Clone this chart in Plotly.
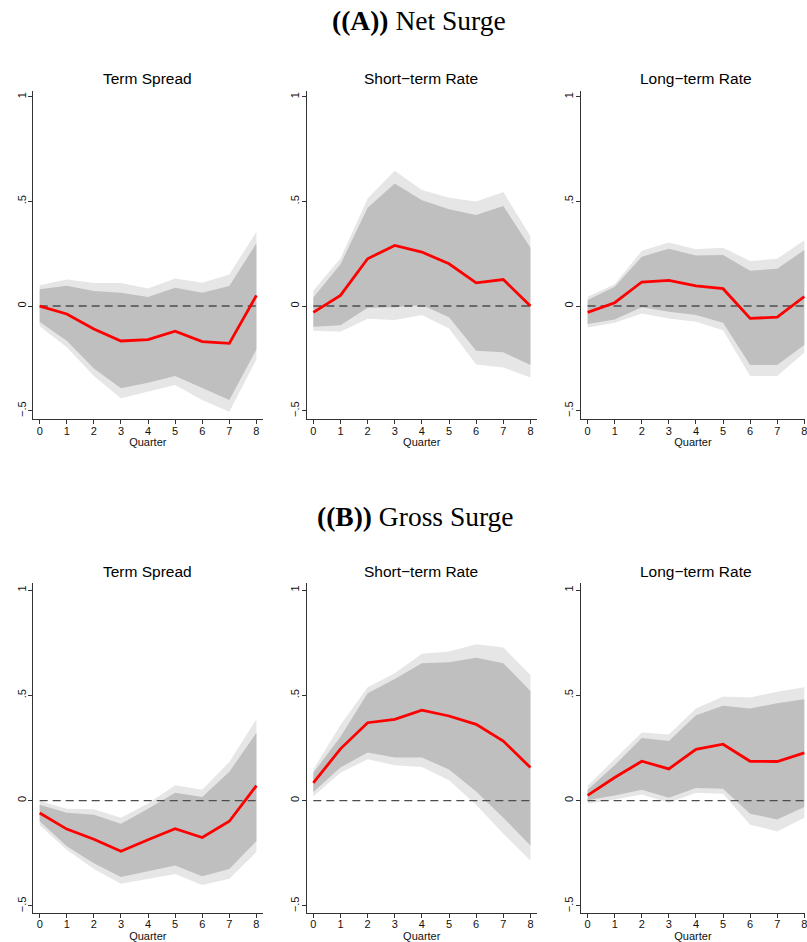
import plotly.graph_objects as go

W, H = 807, 942

quarters = [0, 1, 2, 3, 4, 5, 6, 7, 8]
panel_titles = ["Term Spread", "Short\u2212term Rate", "Long\u2212term Rate"]
section_titles = ["<b>((A))</b> Net Surge", "<b>((B))</b> Gross Surge"]
ytick_vals = [-0.5, 0, 0.5, 1]
ytick_text = ["\u2212.5", "0", ".5", "1"]

# ---- (A) Net Surge ----
netA_term_irf = [0.0, -0.038, -0.11, -0.167, -0.16, -0.12, -0.17, -0.178, 0.051]
netA_term_in_hi = [0.08, 0.097, 0.072, 0.064, 0.043, 0.088, 0.064, 0.096, 0.30]
netA_term_in_lo = [-0.076, -0.166, -0.298, -0.393, -0.366, -0.334, -0.39, -0.449, -0.207]
netA_term_out_hi = [0.099, 0.127, 0.11, 0.11, 0.084, 0.132, 0.111, 0.151, 0.355]
netA_term_out_lo = [-0.096, -0.197, -0.334, -0.441, -0.409, -0.377, -0.449, -0.505, -0.255]

netA_short_irf = [-0.03, 0.051, 0.226, 0.29, 0.258, 0.202, 0.111, 0.127, 0.0]
netA_short_in_hi = [0.041, 0.2, 0.47, 0.586, 0.506, 0.462, 0.435, 0.478, 0.279]
netA_short_in_lo = [-0.099, -0.092, -0.008, -0.006, 0.005, -0.054, -0.213, -0.221, -0.282]
netA_short_out_hi = [0.073, 0.228, 0.514, 0.647, 0.554, 0.518, 0.50, 0.545, 0.334]
netA_short_out_lo = [-0.118, -0.123, -0.061, -0.067, -0.043, -0.107, -0.279, -0.293, -0.341]

netA_long_irf = [-0.03, 0.016, 0.115, 0.123, 0.097, 0.083, -0.059, -0.053, 0.045]
netA_long_in_hi = [0.029, 0.092, 0.236, 0.274, 0.242, 0.244, 0.169, 0.178, 0.268]
netA_long_in_lo = [-0.086, -0.064, -0.006, -0.027, -0.043, -0.08, -0.282, -0.282, -0.186]
netA_long_out_hi = [0.045, 0.104, 0.264, 0.304, 0.272, 0.279, 0.215, 0.226, 0.315]
netA_long_out_lo = [-0.102, -0.08, -0.035, -0.059, -0.075, -0.115, -0.334, -0.334, -0.223]

# ---- (B) Gross Surge ----
grossB_term_irf = [-0.059, -0.135, -0.183, -0.24, -0.186, -0.133, -0.175, -0.098, 0.071]
grossB_term_in_hi = [-0.019, -0.057, -0.067, -0.11, -0.038, 0.037, 0.017, 0.137, 0.322]
grossB_term_in_lo = [-0.098, -0.216, -0.297, -0.363, -0.335, -0.308, -0.359, -0.324, -0.192]
grossB_term_out_hi = [-0.002, -0.038, -0.041, -0.081, -0.014, 0.073, 0.052, 0.184, 0.387]
grossB_term_out_lo = [-0.117, -0.233, -0.324, -0.395, -0.371, -0.348, -0.40, -0.371, -0.244]

grossB_short_irf = [0.084, 0.246, 0.37, 0.386, 0.43, 0.402, 0.362, 0.283, 0.157]
grossB_short_in_hi = [0.132, 0.303, 0.51, 0.578, 0.652, 0.657, 0.679, 0.652, 0.521]
grossB_short_in_lo = [0.041, 0.157, 0.229, 0.205, 0.205, 0.148, 0.044, -0.081, -0.213]
grossB_short_out_hi = [0.148, 0.359, 0.538, 0.605, 0.698, 0.708, 0.743, 0.727, 0.597]
grossB_short_out_lo = [0.021, 0.132, 0.197, 0.168, 0.16, 0.097, -0.019, -0.157, -0.284]

grossB_long_irf = [0.025, 0.11, 0.187, 0.151, 0.244, 0.268, 0.187, 0.186, 0.227]
grossB_long_in_hi = [0.052, 0.168, 0.298, 0.283, 0.406, 0.451, 0.438, 0.462, 0.481]
grossB_long_in_lo = [0.002, 0.025, 0.052, 0.014, 0.06, 0.057, -0.062, -0.089, -0.03]
grossB_long_out_hi = [0.071, 0.20, 0.324, 0.314, 0.438, 0.494, 0.49, 0.517, 0.538]
grossB_long_out_lo = [-0.014, 0.005, 0.029, -0.01, 0.037, 0.033, -0.114, -0.146, -0.081]

zero_line = [0, 0, 0, 0, 0, 0, 0, 0, 0]

panels = [
    (netA_term_irf, netA_term_in_hi, netA_term_in_lo, netA_term_out_hi, netA_term_out_lo),
    (netA_short_irf, netA_short_in_hi, netA_short_in_lo, netA_short_out_hi, netA_short_out_lo),
    (netA_long_irf, netA_long_in_hi, netA_long_in_lo, netA_long_out_hi, netA_long_out_lo),
    (grossB_term_irf, grossB_term_in_hi, grossB_term_in_lo, grossB_term_out_hi, grossB_term_out_lo),
    (grossB_short_irf, grossB_short_in_hi, grossB_short_in_lo, grossB_short_out_hi, grossB_short_out_lo),
    (grossB_long_irf, grossB_long_in_hi, grossB_long_in_lo, grossB_long_out_hi, grossB_long_out_lo),
]

# layout geometry (pixels)
col_left = [33.0, 307.3, 582.3]
col_right = [263.3, 538.3, 807.0]
x_ranges = [[-0.25, 8.23], [-0.25, 8.24], [-0.25, 8.026]]
row_top = [90.7, 583.3]
row_bot = [419.3, 912.7]
y_ranges = [[-0.541, 1.029], [-0.532, 1.032]]
title_y = [79.0, 571.7]
section_y = [21.0, 516.5]
section_x = [420.0, 417.0]

fig = go.Figure()
layout_axes = {}
annotations = []

OUTER = "#e6e6e6"
INNER = "#bfbfbf"
AXIS_COLOR = "#333333"
font_sans = "Liberation Sans, Arial, sans-serif"

for idx, (irf, in_hi, in_lo, out_hi, out_lo) in enumerate(panels):
    r, c = divmod(idx, 3)
    n = idx + 1
    xa = "x" if n == 1 else f"x{n}"
    ya = "y" if n == 1 else f"y{n}"
    poly_x = quarters + quarters[::-1]
    fig.add_trace(go.Scatter(x=poly_x, y=out_hi + out_lo[::-1], fill="toself",
                             fillcolor=OUTER, line=dict(width=0), mode="lines",
                             hoverinfo="skip", showlegend=False, xaxis=xa, yaxis=ya))
    fig.add_trace(go.Scatter(x=poly_x, y=in_hi + in_lo[::-1], fill="toself",
                             fillcolor=INNER, line=dict(width=0), mode="lines",
                             hoverinfo="skip", showlegend=False, xaxis=xa, yaxis=ya))
    fig.add_trace(go.Scatter(x=quarters, y=zero_line, mode="lines",
                             line=dict(color="#4d4d4d", width=1.4, dash="8px,5px"),
                             hoverinfo="skip", showlegend=False, xaxis=xa, yaxis=ya))
    fig.add_trace(go.Scatter(x=quarters, y=irf, mode="lines",
                             line=dict(color="#ff0000", width=2.8),
                             showlegend=False, xaxis=xa, yaxis=ya))

    xkey = "xaxis" if n == 1 else f"xaxis{n}"
    ykey = "yaxis" if n == 1 else f"yaxis{n}"
    layout_axes[xkey] = dict(
        domain=[col_left[c] / W, col_right[c] / W],
        range=x_ranges[c], anchor=ya,
        tickmode="array", tickvals=quarters, ticktext=[str(q) for q in quarters],
        ticks="outside", ticklen=4, tickwidth=1, tickcolor=AXIS_COLOR,
        ticklabelstandoff=-3, ticklabeloverflow="allow",
        showline=True, linecolor=AXIS_COLOR, linewidth=1,
        showgrid=False, zeroline=False,
        tickfont=dict(family=font_sans, size=11, color="#111111"),
        title=dict(text="Quarter", font=dict(family=font_sans, size=11, color="#111111"), standoff=2),
        fixedrange=True,
    )
    layout_axes[ykey] = dict(
        domain=[1 - row_bot[r] / H, 1 - row_top[r] / H],
        range=y_ranges[r], anchor=xa,
        tickmode="array", tickvals=ytick_vals, ticktext=ytick_text,
        tickangle=-90,
        ticks="outside", ticklen=4, tickwidth=1, tickcolor=AXIS_COLOR,
        ticklabelstandoff=-2,
        showline=True, linecolor=AXIS_COLOR, linewidth=1,
        showgrid=False, zeroline=False,
        tickfont=dict(family=font_sans, size=11, color="#111111"),
        fixedrange=True,
    )
    annotations.append(dict(
        text=panel_titles[c], x=(col_left[c] + 230.3 / 2) / W, y=1 - title_y[r] / H,
        xref="paper", yref="paper", showarrow=False, xanchor="center", yanchor="middle",
        font=dict(family=font_sans, size=15.5, color="#000000")))

for r in range(2):
    annotations.append(dict(
        text=section_titles[r], x=section_x[r] / W, y=1 - section_y[r] / H,
        xref="paper", yref="paper", showarrow=False, xanchor="center", yanchor="middle",
        font=dict(family="Liberation Serif, Times New Roman, serif", size=27.5, color="#000000")))

fig.update_layout(
    width=W, height=H,
    margin=dict(l=0, r=0, t=0, b=0),
    paper_bgcolor="white", plot_bgcolor="white",
    annotations=annotations,
    showlegend=False,
    **layout_axes,
)

fig.write_html(
    "out.html",
    config={"displayModeBar": False},
    post_script="document.body.style.margin='0';document.body.style.overflow='hidden';",
)
